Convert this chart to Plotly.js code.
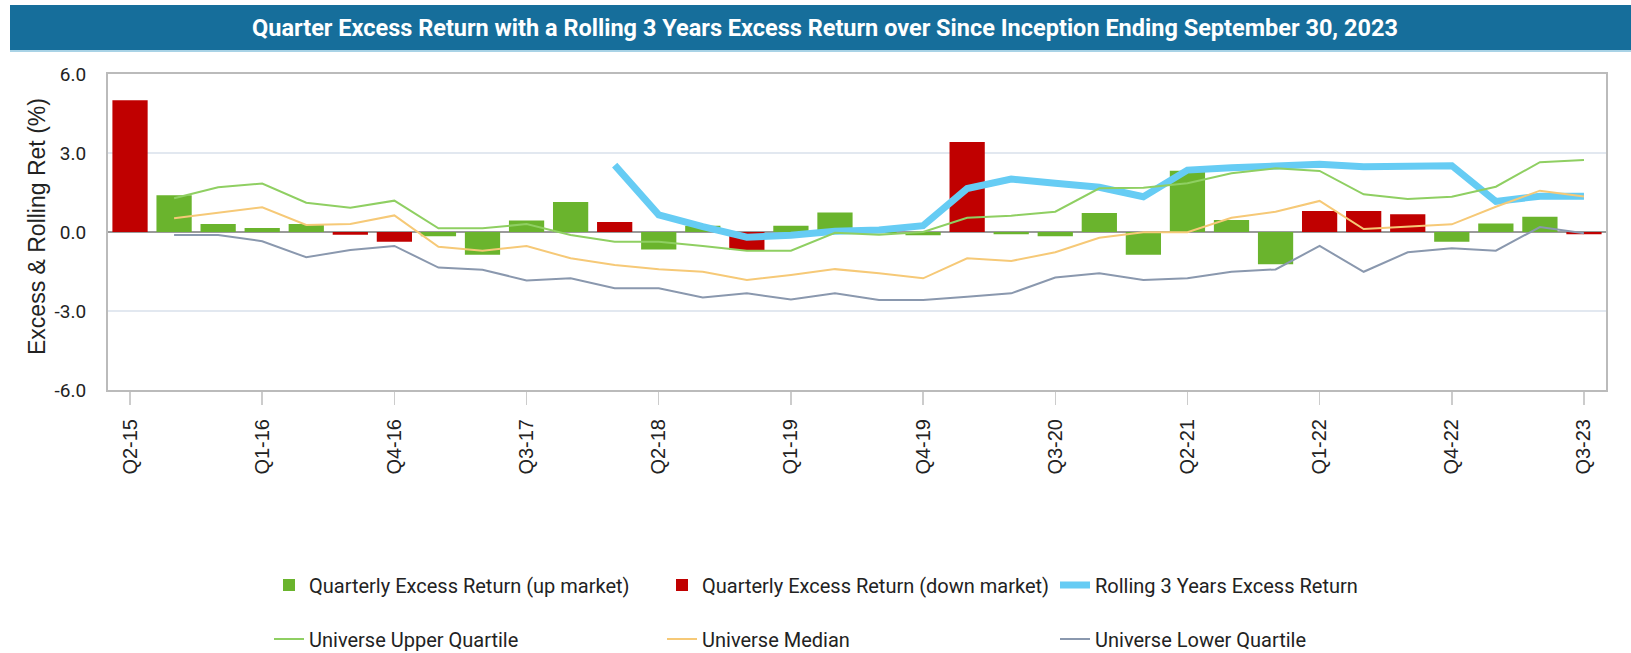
<!DOCTYPE html>
<html>
<head>
<meta charset="utf-8">
<script src="https://cdn.plot.ly/plotly-3.0.1.min.js"></script>
<style>
html,body{margin:0;padding:0;background:#fff;}
#chart{width:1631px;height:653px;}
</style>
</head>
<body>
<div id="chart"></div>
<script>
const quarters = ["Q2-15","Q3-15","Q4-15","Q1-16","Q2-16","Q3-16","Q4-16","Q1-17","Q2-17","Q3-17","Q4-17","Q1-18","Q2-18","Q3-18","Q4-18","Q1-19","Q2-19","Q3-19","Q4-19","Q1-20","Q2-20","Q3-20","Q4-20","Q1-21","Q2-21","Q3-21","Q4-21","Q1-22","Q2-22","Q3-22","Q4-22","Q1-23","Q2-23","Q3-23"];
const tickLabels = ["Q2-15","Q1-16","Q4-16","Q3-17","Q2-18","Q1-19","Q4-19","Q3-20","Q2-21","Q1-22","Q4-22","Q3-23"];
const yTickValues = [-6, -3, 0, 3, 6];
const yTickLabels = ["-6.0", "-3.0", "0.0", "3.0", "6.0"];

const upMarket = [null,1.40,0.30,0.15,0.30,null,null,-0.16,-0.86,0.44,1.14,null,-0.66,0.24,null,0.24,0.74,-0.05,-0.12,null,-0.09,-0.16,0.72,-0.86,2.33,0.46,-1.22,null,null,null,-0.37,0.32,0.58,null];
const downMarket = [5.00,null,null,null,null,-0.10,-0.37,null,null,null,null,0.38,null,null,-0.68,null,null,null,null,3.42,null,null,null,null,null,null,null,0.80,0.80,0.67,null,null,null,-0.09];
const rolling3y = [null,null,null,null,null,null,null,null,null,null,null,2.54,0.65,0.20,-0.20,-0.12,0.03,0.08,0.24,1.65,2.01,1.85,1.70,1.34,2.35,2.44,2.52,2.57,2.48,2.48,2.52,1.16,1.36,1.36];
const upperQuartile = [null,1.28,1.70,1.84,1.11,0.92,1.19,0.14,0.14,0.30,-0.11,-0.37,-0.37,-0.53,-0.71,-0.71,-0.03,-0.10,0.00,0.54,0.62,0.77,1.66,1.68,1.85,2.23,2.42,2.32,1.43,1.25,1.34,1.72,2.65,2.73];
const median = [null,0.52,0.73,0.94,0.27,0.30,0.63,-0.56,-0.71,-0.53,-1.00,-1.25,-1.41,-1.51,-1.82,-1.63,-1.41,-1.57,-1.76,-1.00,-1.10,-0.77,-0.22,-0.01,-0.01,0.54,0.77,1.18,0.11,0.20,0.29,0.96,1.57,1.35];
const lowerQuartile = [null,-0.11,-0.11,-0.35,-0.96,-0.68,-0.53,-1.35,-1.43,-1.84,-1.76,-2.14,-2.14,-2.49,-2.33,-2.56,-2.33,-2.58,-2.58,-2.46,-2.33,-1.73,-1.57,-1.82,-1.76,-1.51,-1.42,-0.53,-1.51,-0.77,-0.62,-0.71,0.19,-0.05];

const roboto = "Roboto, Inter, sans-serif";
const arial = "Liberation Sans, Arial, sans-serif";

const traces = [
  {type:'bar', x:quarters, y:upMarket, name:'Quarterly Excess Return (up market)', marker:{color:'#6ab42d'}, width:0.8, legend:'legend'},
  {type:'bar', x:quarters, y:downMarket, name:'Quarterly Excess Return (down market)', marker:{color:'#c00000'}, width:0.8, legend:'legend'},
  {type:'scatter', mode:'lines', x:quarters, y:rolling3y, name:'Rolling 3 Years Excess Return', line:{color:'#66ccf4', width:7}, legend:'legend'},
  {type:'scatter', mode:'lines', x:quarters, y:upperQuartile, name:'Universe Upper Quartile', line:{color:'#8fcf62', width:2}, legend:'legend2'},
  {type:'scatter', mode:'lines', x:quarters, y:median, name:'Universe Median', line:{color:'#f6c977', width:2}, legend:'legend2'},
  {type:'scatter', mode:'lines', x:quarters, y:lowerQuartile, name:'Universe Lower Quartile', line:{color:'#8a98ae', width:2}, legend:'legend2'}
];

const W = 1631, H = 653;
const L = 108, R = 1606, T = 74, B = 390;
const pw = R - L, ph = B - T;
const px = v => (v - L) / pw;
const py = v => (B - v) / ph;

const layout = {
  width:W, height:H,
  margin:{l:L, r:W-R, t:T, b:H-B, pad:0, autoexpand:false},
  paper_bgcolor:'#ffffff', plot_bgcolor:'#ffffff',
  barmode:'overlay',
  showlegend:true,
  title:{text:'<b>Quarter Excess Return with a Rolling 3 Years Excess Return over Since Inception Ending September 30, 2023</b>',
         font:{family:roboto, size:23.5, color:'#ffffff'}, x:825/W, xanchor:'center', xref:'container', y:1-28/H, yanchor:'middle', yref:'container'},
  xaxis:{
    type:'category', range:[-0.5, 33.5], tickmode:'array', tickvals:tickLabels, ticktext:tickLabels,
    tickangle:-90, ticks:'outside', ticklen:13, tickcolor:'#cccccc', tickwidth:1.5, ticklabelstandoff:6,
    tickfont:{family:arial, size:20, color:'#222222'},
    showgrid:false, showline:true, linecolor:'#bbbbbb', linewidth:2, mirror:true, zeroline:false, fixedrange:true
  },
  yaxis:{
    range:[-6, 6], tickmode:'array', tickvals:yTickValues, ticktext:yTickLabels,
    tickfont:{family:roboto, size:19, color:'#222222'}, ticks:'', ticklabelstandoff:16,
    showgrid:true, gridcolor:'#e2e8f0', gridwidth:1.5,
    zeroline:true, zerolinecolor:'#9a9a9a', zerolinewidth:1.5,
    showline:true, linecolor:'#bbbbbb', linewidth:2, mirror:true,
    fixedrange:true
  },
  annotations:[
    {text:'Excess & Rolling Ret (%)', xref:'paper', yref:'paper', x:px(37), y:py(227), xanchor:'center', yanchor:'middle',
     textangle:-90, showarrow:false, font:{family:arial, size:23, color:'#222222'}}
  ],
  legend:{orientation:'h', xref:'container', yref:'container', x:269/W, xanchor:'left', y:1-585/H, yanchor:'middle', entrywidth:348, entrywidthmode:'pixels',
          font:{family:roboto, size:20, color:'#222222'}, bgcolor:'rgba(0,0,0,0)', traceorder:'normal'},
  legend2:{orientation:'h', xref:'container', yref:'container', x:269/W, xanchor:'left', y:1-639/H, yanchor:'middle', entrywidth:348, entrywidthmode:'pixels',
          font:{family:roboto, size:20, color:'#222222'}, bgcolor:'rgba(0,0,0,0)', traceorder:'normal'},
  shapes:[
    {type:'rect', xref:'paper', yref:'paper', x0:px(10), x1:px(W), y0:py(50), y1:py(5), fillcolor:'#166e9b', line:{width:0}, layer:'below'},
    {type:'line', xref:'paper', yref:'paper', x0:px(10), x1:px(W), y0:py(51), y1:py(51), line:{color:'#a9d3e6', width:2}}
  ]
};

Plotly.newPlot('chart', traces, layout, {displayModeBar:false, staticPlot:true});
</script>
</body>
</html>
